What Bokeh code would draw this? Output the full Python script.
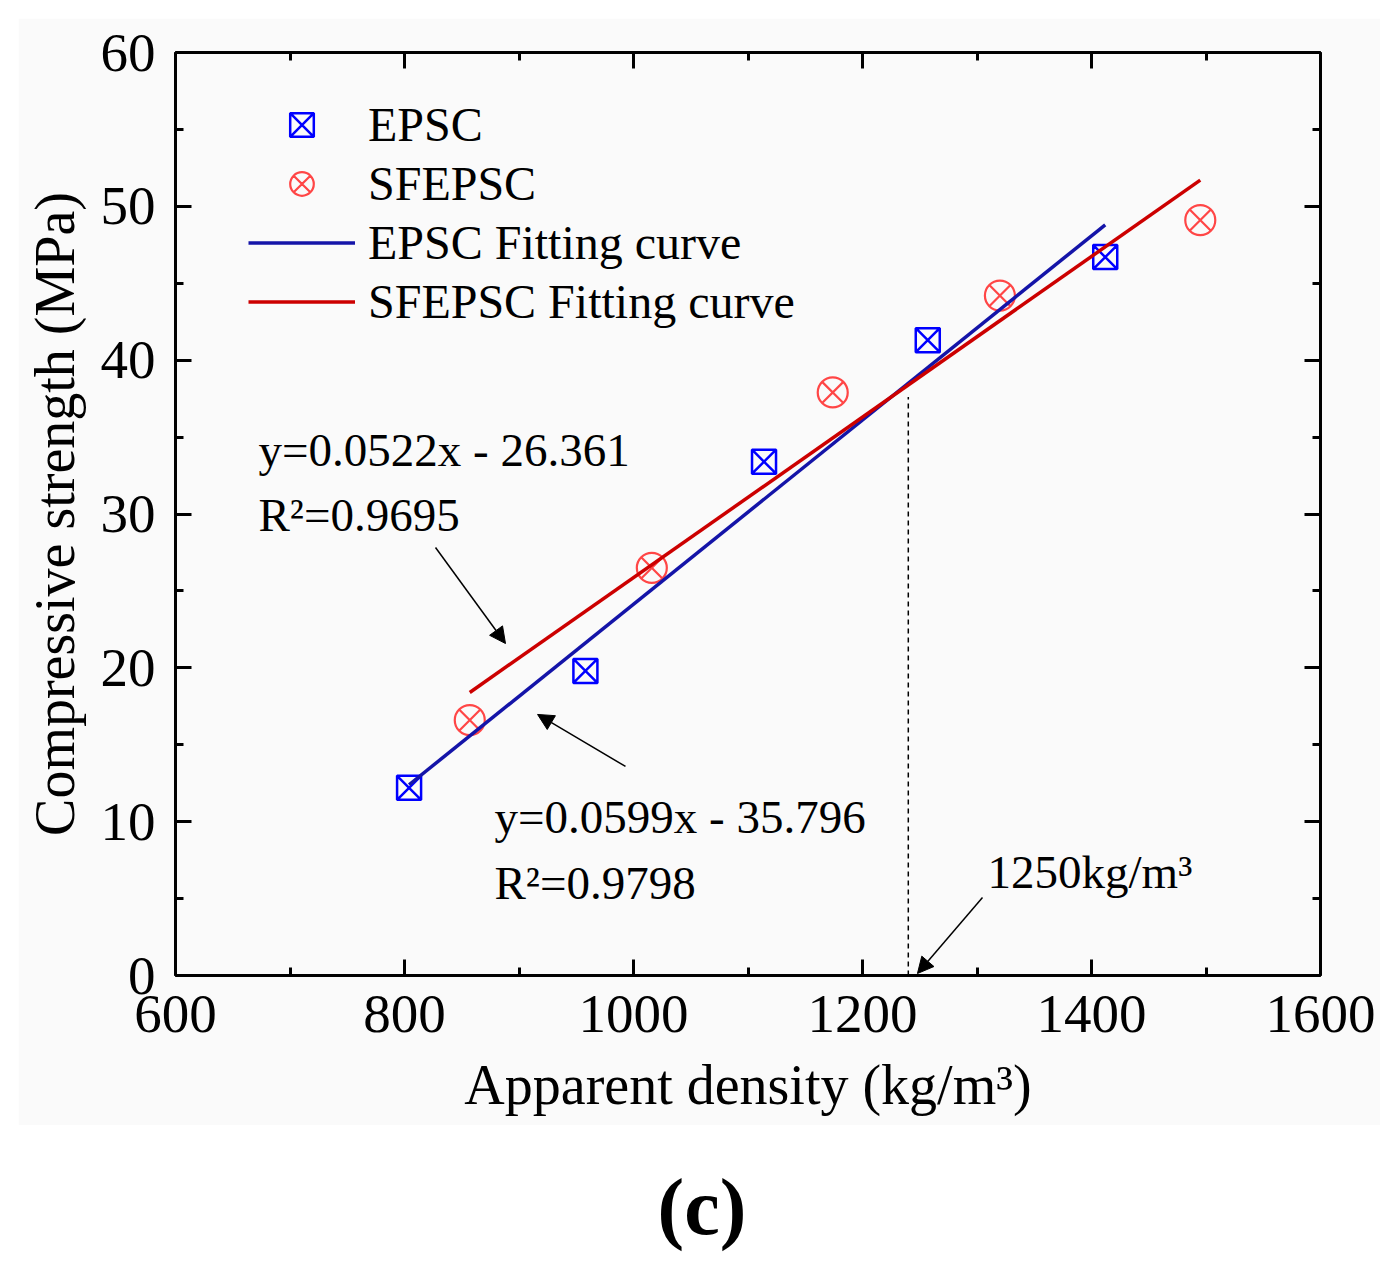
from bokeh.plotting import figure
from bokeh.models import (LinearAxis, SingleIntervalTicker, Range1d, Legend, LegendItem,
                          Arrow, NormalHead, Div, Label, CustomJSTickFormatter)
from bokeh.layouts import column
from bokeh.embed import file_html
from bokeh.resources import INLINE

# ---- data ----
epsc_density = [804, 958, 1114, 1257, 1412]
epsc_strength = [12.2, 19.8, 33.4, 41.3, 46.7]
sfepsc_density = [857, 1016, 1174, 1320, 1495]
sfepsc_strength = [16.6, 26.5, 37.9, 44.2, 49.1]
epsc_fit_x = [804, 1412]
epsc_fit_y = [12.4, 48.8]
sfepsc_fit_x = [857, 1495]
sfepsc_fit_y = [18.4, 51.7]
threshold_x = [1240, 1240]
threshold_y = [0, 37.6]

FONT = "Liberation Serif"

p = figure(width=1362, height=1107, x_range=Range1d(600, 1600), y_range=Range1d(0, 60),
           output_backend="svg", toolbar_location=None,
           min_border_left=157, min_border_right=60, min_border_top=34, min_border_bottom=150,
           background_fill_color="#fafafa", border_fill_color="#fafafa",
           outline_line_color=None, margin=(18, 0, 0, 18))
p.grid.visible = False

def style_axis(ax, show_labels=True, standoff=10):
    ax.axis_line_width = 3
    ax.axis_line_color = "black"
    ax.major_tick_in = 16
    ax.major_tick_out = 0
    ax.minor_tick_in = 8
    ax.minor_tick_out = 0
    ax.major_tick_line_width = 3
    ax.minor_tick_line_width = 3
    ax.major_label_text_font = FONT
    ax.major_label_text_color = "black"
    ax.major_label_text_font_size = "55px"
    if show_labels:
        ax.major_label_standoff = standoff
    else:
        ax.formatter = CustomJSTickFormatter(code="return ''")
        ax.major_label_standoff = 0
    ax.axis_label_text_font = FONT
    ax.axis_label_text_font_size = "56px"
    ax.axis_label_text_font_style = "normal"
    ax.axis_label_text_color = "black"

p.xaxis.ticker = SingleIntervalTicker(interval=200, num_minor_ticks=2)
p.yaxis.ticker = SingleIntervalTicker(interval=10, num_minor_ticks=2)
style_axis(p.xaxis[0], True, 20)
style_axis(p.yaxis[0], True, 20)
p.xaxis.axis_label = "Apparent density (kg/m³)"
p.xaxis.axis_label_standoff = 19
p.yaxis.axis_label = "Compressive strength (MPa)"
p.yaxis.axis_label_standoff = 12

top = LinearAxis(ticker=SingleIntervalTicker(interval=200, num_minor_ticks=2))
style_axis(top, False)
p.add_layout(top, "above")
right = LinearAxis(ticker=SingleIntervalTicker(interval=10, num_minor_ticks=2))
style_axis(right, False)
p.add_layout(right, "right")

# markers
r_epsc = p.scatter(epsc_density, epsc_strength, marker="square_x", size=24,
                   line_color="#0000ff", fill_color=None, line_width=2.5)
r_sf = p.scatter(sfepsc_density, sfepsc_strength, marker="circle_x", size=30,
                 line_color="#ff4646", fill_color=None, line_width=2.2)
# fitting lines
r_efit = p.line(epsc_fit_x, epsc_fit_y, line_color="#1414a8", line_width=3.5)
r_sfit = p.line(sfepsc_fit_x, sfepsc_fit_y, line_color="#cc0000", line_width=3.5)
# threshold
p.line(threshold_x, threshold_y, line_color="black", line_width=1.5, line_dash="5 4")

legend = Legend(items=[
    LegendItem(label="EPSC", renderers=[r_epsc]),
    LegendItem(label="SFEPSC", renderers=[r_sf]),
    LegendItem(label="EPSC Fitting curve", renderers=[r_efit]),
    LegendItem(label="SFEPSC Fitting curve", renderers=[r_sfit]),
], location=(73, 644), label_text_font=FONT, label_text_font_size="48px",
   label_text_color="black",
   glyph_width=107, glyph_height=59, label_height=59, spacing=0, padding=0, margin=0,
   label_standoff=13, border_line_color=None, background_fill_alpha=0)
p.add_layout(legend)

def add_label(x, y, text):
    p.add_layout(Label(x=x, y=y, text=text, text_font=FONT, text_font_size="47px",
                       text_baseline="alphabetic", text_align="left", text_color="black"))

add_label(672.5, 34.15, "y=0.0522x - 26.361")
add_label(672.5, 29.93, "R²=0.9695")
add_label(878.6, 10.30, "y=0.0599x - 35.796")
add_label(878.6, 6.01, "R²=0.9798")
add_label(1309.2, 6.75, "1250kg/m³")

def add_arrow(xs, ys, xe, ye):
    p.add_layout(Arrow(end=NormalHead(size=16, fill_color="black", line_color="black", line_width=1),
                       x_start=xs, y_start=ys, x_end=xe, y_end=ye,
                       line_color="black", line_width=1.5))

add_arrow(827.1, 27.82, 888.2, 21.58)
add_arrow(993.0, 13.59, 916.2, 16.97)
add_arrow(1304.8, 5.07, 1248.0, 0.13)

caption = Div(text='<div style="width:1376px;text-align:center;font-family:\'Liberation Serif\';'
                   'font-weight:bold;font-size:80px;line-height:1;padding-left:28px;'
                   'padding-top:42px;color:black;">(c)</div>',
              width=1376, height=138, margin=(0, 0, 0, 0))

layout = column(p, caption, spacing=0)
open("out.html", "w").write(file_html(layout, INLINE))
